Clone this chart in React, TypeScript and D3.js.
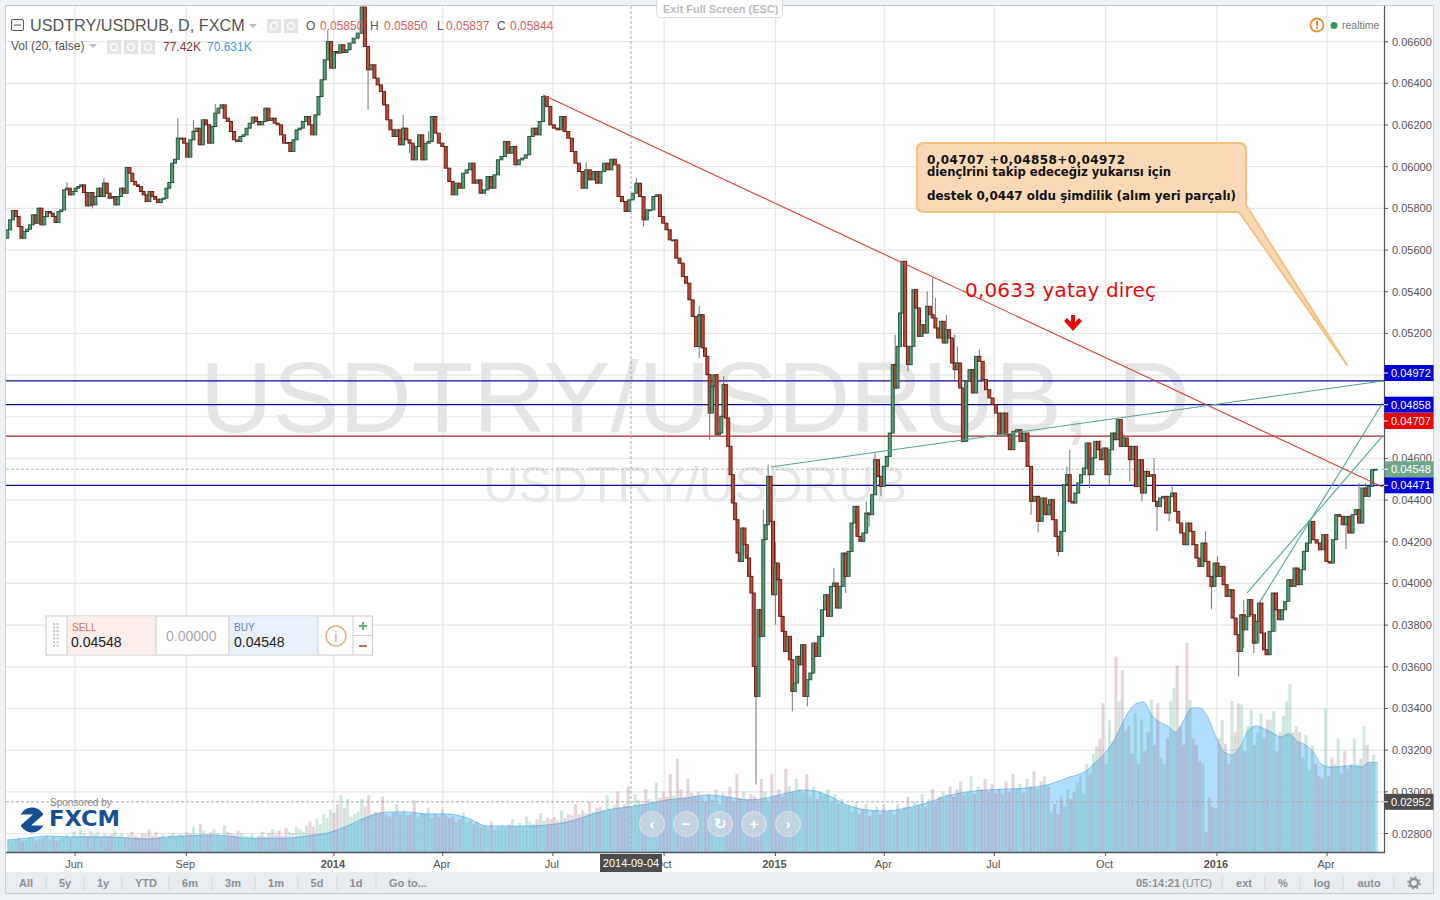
import React from "react";
import * as d3 from "d3";

const SANS = "'Liberation Sans', Arial, sans-serif";
const VERD = "'DejaVu Sans', Verdana, sans-serif";

// prices are in units of 0.00001
const closesA = [
  5697,5745,5790,5761,5713,5657,5689,5700,5721,5769,
  5729,5801,5721,5761,5785,5777,5761,5732,5785,5793,
  5889,5897,5865,5881,5897,5905,5913,5876,5812,5876,
  5817,5857,5897,5857,5921,5873,5849,5857,5817,5857,
  5897,5873,5996,5969,5929,5913,5905,5881,5865,5833,
  5881,5857,5844,5828,5844,5849,5897,5924,6017,6036,
  6137,6137,6113,6046,6129,6169,6185,6105,6225,6201,
  6113,6193,6257,6281,6297,6233,6217,6169,6129,6121,
  6145,6153,6185,6209,6238,6217,6201,6217,6281,6222,
  6233,6209,6201,6153,6113,6116,6073,6129,6177,6185,
  6217,6241,6201,6153,6249,6337,6417,6513,6601,6473,
  6553,6545,6585,6548,6561,
];
const closesB = [
  6593,6617,6641,6766,6577,6465,6489,6425,6393,6361,
  6297,6225,6177,6145,6177,6105,6185,6129,6113,6033,
  6097,6153,6033,6113,6121,6241,6161,6113,6097,5993,
  5929,5865,5921,5897,5969,5985,6017,5921,5937,5873,
  5889,5953,5897,5961,6033,6049,6121,6065,6097,6009,
  6033,6041,6057,6145,6185,6153,6217,6337,6289,6201,
  6185,6177,6241,6169,6137,6073,6017,5977,5897,5985,
  5937,5977,5921,5977,6017,5985,6036,6009,5857,5833,
  5785,5841,5873,5921,5857,5745,5793,5793,5857,5865,
  5761,5729,5697,5649,5649,5561,5537,5473,5441,5361,
  5281,5137,5289,
];
const closesC = [
  5290,5130,5090,5002,4818,4946,5002,4714,4722,4802,
  4954,4794,4658,4522,4386,4306,4146,4106,4266,4186,
  4122,4034,3954,3602,3458,3874,3746,4210,4282,4514,
  4298,3946,4098,4018,3842,3770,3674,3746,3634,3482,
  3522,3650,3610,3706,3458,3538,3570,3714,3650,3746,
  3874,3946,3842,3986,4002,3882,3986,4146,4034,4154,
  4290,4370,4226,4202,4242,4338,4330,4426,4594,4514,
  4466,4562,4610,4722,5050,4938,5138,5298,5546,5138,
  5050,5138,5410,5322,5186,5242,5202,5330,5290,5274,
  5226,5178,5258,5154,5218,5178,5058,5026,5058,4938,
  4682,4970,5026,4914,5090,5066,4978,4930,4890,4858,
  4818,4714,4818,4714,4642,4730,4738,4682,4722,4562,
  4394,4418,4298,4410,4330,4378,
];
const closesD = [
  4402,4306,4226,4154,4250,4474,4522,4394,4386,4434,
  4482,4522,4554,4674,4522,4602,4682,4642,4594,4650,
  4522,4642,4722,4690,4786,4658,4698,4658,4594,4658,
  4466,4594,4434,4538,4514,4522,4394,4370,4410,4418,
  4338,4418,4434,4346,4290,4242,4186,4290,4250,4186,
  4122,4082,4194,4106,4034,3986,4098,4034,4082,3994,
  3938,3970,3834,3754,3674,3850,3778,3842,3922,3850,
  3714,3818,3906,3762,3682,3658,3770,3954,3874,3826,
  3874,3914,4018,3986,4074,3994,4066,4154,4194,4298,
  4210,4194,4162,4234,4106,4098,4210,4330,4322,4282,
  4322,4242,4330,4354,4290,4458,4418,4466,4546,4548,
];

// [bar index in its block, high, low]
const wicksA: (number | null)[][] = [[21,5925,null],[30,null,5800],[34,5945,null],[60,6233,null],[65,6225,null],[108,6657,null],[72,6300,null]];
const wicksB: (number | null)[][] = [[5,null,6273],[16,6249,null],[18,null,6065],[29,6050,null],[69,6020,null],[85,null,5713],[83,5945,null],[102,5332,5081],[24,6170,null]];
const wicksC: (number | null)[][] = [[4,null,4690],[10,4994,null],[24,3600,3035],[27,4354,null],[29,4570,null],[32,4200,3802],[39,null,3386],[45,null,3410],[54,4074,null],[58,null,3954],[65,4394,null],[66,null,4274],[68,4626,null],[70,null,4420],[75,5194,null],[80,null,5018],[87,5402,null],[89,5466,null],[90,5370,null],[94,5290,null],[97,5194,4978],[98,5138,null],[105,5122,null],[120,null,4330],[122,null,4245]];
const wicksD: (number | null)[][] = [[3,null,4130],[6,4562,null],[7,4642,null],[14,null,4458],[18,4690,null],[21,null,4474],[26,4715,null],[28,null,4490],[32,null,4394],[36,4602,null],[37,null,4250],[41,null,4298],[42,4474,null],[53,4250,null],[55,null,3877],[57,4130,null],[64,null,3554],[66,3922,3690],[70,null,3666],[72,null,3714],[78,null,3767],[100,null,4165],[104,4482,null],[106,4482,null]];

// bar index -> date anchors (read at the chart's turning points)
const barIndexAnchors = [0,60,108,115,118,140,172,200,217,218,242,247,262,292,296,318,329,343,344,368,408,419,433,453];
const barDateAnchors = ["2013-04-06","2013-08-25","2013-12-27","2014-01-14","2014-01-24","2014-03-23","2014-06-23","2014-09-14","2014-10-30","2014-10-31","2014-12-16","2014-12-26","2015-01-25","2015-04-08","2015-04-16","2015-06-05","2015-07-05","2015-08-15","2015-08-16","2015-10-11","2016-01-19","2016-02-11","2016-03-18","2016-05-11"];

// volume in thousands
const volA = [
  10,9,10,11,9,10,12,11,9,10,11,13,10,12,9,11,12,14,11,16,
  13,18,15,13,17,14,16,12,15,13,14,17,13,15,12,14,16,13,12,15,
  14,18,13,16,12,14,11,13,15,12,14,13,16,15,20,14,22,17,14,16,
  18,15,13,21,16,15,14,17,15,13,12,14,11,13,16,12,15,18,14,17,
  13,19,16,15,20,18,16,21,24,20,26,22,30,27,34,31,38,45,35,42,
];
const volB = [
  28,30,32,42,36,45,30,32,31,44,30,28,31,38,30,
  33,29,30,41,28,31,30,35,27,30,28,34,29,27,
  28,24,26,31,23,25,22,24,20,21,19,24,18,20,
  21,19,22,26,20,23,21,28,24,22,26,31,25,27,
  26,28,25,33,27,30,29,38,30,33,31,40,32,35,
  36,33,45,34,37,48,35,38,52,36,46,41,38,50,
  42,40,55,43,48,44,62,45,74,50,44,58,47,45,48,
];
const volC = [
  44,40,46,42,50,38,47,44,52,40,62,43,48,42,
  46,44,41,58,48,40,62,45,50,44,66,52,48,58,
  50,47,62,44,52,42,48,45,50,40,46,38,42,37,
  36,32,40,30,34,38,29,33,36,30,38,32,34,30,
  38,33,36,44,35,40,38,46,36,42,50,40,44,48,
  46,52,44,50,56,45,48,60,46,52,50,58,48,54,47,
  50,46,56,48,62,50,54,47,58,52,64,50,56,60,52,
];
const volD = [
  32,38,30,44,36,50,42,48,55,60,46,70,62,78,84,
  90,118,70,105,88,155,120,144,
  96,100,78,110,70,105,80,95,121,85,118,75,
  70,90,120,130,148,100,85,166,
  121,90,85,72,70,
  16,43,36,35,
  90,105,86,70,120,95,118,
  117,80,100,113,85,95,110,90,105,
  105,112,80,95,108,120,133,95,100,
  95,75,93,65,85,70,60,58,
  114,60,75,70,90,62,
  80,66,70,90,70,74,100,85,70,77,
];
const volBlockDates = ["2013-04-06","2014-01-14","2014-10-31","2015-08-16","2016-05-11"];

// 20-bar volume average, thousands
const volMaCoarse = [9.5,11,12.7,12,12,12,11,10.3,12,12.7,13.5,12.7,11,11,11,12.7,15,20.6,27.8,31.7,31.7,30.2,30.2,27,20.6,20.6,20.6,21.4,23.8,28.6,33.3,35.7,38,41.3,42.9,45.2,43.7,41.3,42.9,46.8,49.2,45.2,37.3,33.3,32.5,35,38.9,44.4,47.6,49.2,50,50.8,53.2,58.7,65];
const volMaFine = [70.6,77,85,96.8,109.5,117.5,119,108.7,103,100,95,104.8,114.3,114.3,106.3,90.5,79.4,77,84,96.8,100,97.6,94.4,91.3,93.7,88,85,79.4,69.8,67.5,67.5,68.3,68.3,67.5,71.4,70.6];
const maDates = ["2013-04-06","2016-05-13"];

const priceTicks = [6600,6400,6200,6000,5800,5600,5400,5200,5000,4800,4600,4400,4200,4000,3800,3600,3400,3200,3000,2800];
const hiddenTicks = [5000, 4800];
const timeTicks: [string, string, boolean][] = [
  ["2013-06-01","Jun",false],["2013-09-01","Sep",false],["2014-01-01","2014",true],["2014-04-01","Apr",false],
  ["2014-07-01","Jul",false],["2014-10-01","Oct",false],["2015-01-01","2015",true],["2015-04-01","Apr",false],
  ["2015-07-01","Jul",false],["2015-10-01","Oct",false],["2016-01-01","2016",true],["2016-04-01","Apr",false],
];
const blueLevels = [4972, 4858, 4471];
const redLevels = [4707];
const lastPrice = 4548;
const lowMark = 2952;
const redTrend = [["2014-06-23",6344],["2016-05-17",4463]] as [string, number][];
const tealTrends = [
  [["2014-12-28",4559],["2016-05-17",4972]],
  [["2016-01-26",3955],["2016-05-17",4708]],
  [["2016-02-05",3907],["2016-05-17",4866]],
] as [string, number][][];
const leftRanges = ["All","5y","1y","YTD","6m","3m","1m","5d","1d","Go to..."];
const rightRanges = ["ext","%","log","auto"];

const d = (s: string) => new Date(s + "T00:00:00Z");
const x = d3.scaleUtc([d("2013-06-01"), d("2016-04-01")], [75, 1327]);
const y = d3.scaleLinear([2800, 6600], [833.5, 41.7]);
const volY = d3.scaleLinear([0, 100], [852, 726]);
const fmt = (v: number) => (v / 100000).toFixed(5);

const closes = [...closesA, ...closesB, ...closesC, ...closesD];
const barDate = d3.scaleLinear(barIndexAnchors, barDateAnchors.map((s) => +d(s)));
const barX = closes.map((_, i) => x(new Date(barDate(i))));
const wickList = [
  ...wicksA.map((w) => [(w[0] as number), w[1], w[2]]),
  ...wicksB.map((w) => [(w[0] as number) + closesA.length, w[1], w[2]]),
  ...wicksC.map((w) => [(w[0] as number) + closesA.length + closesB.length, w[1], w[2]]),
  ...wicksD.map((w) => [(w[0] as number) + closesA.length + closesB.length + closesC.length, w[1], w[2]]),
];

const volBlocks = [volA, volB, volC, volD];
const volBars = volBlocks.flatMap((arr, b) => {
  const s = d3.scaleLinear([0, arr.length], [+d(volBlockDates[b]), +d(volBlockDates[b + 1])]);
  return arr.map((v, i) => {
    const px = x(new Date(s(i)));
    const k = d3.bisectCenter(barX, px);
    return { v, px, up: k === 0 || closes[k] >= closes[k - 1] };
  });
});

const volMa = [...volMaCoarse, ...volMaFine];
const maIndex = d3.scaleLinear([0, volMaCoarse.length - 1, volMa.length - 1], [+d(maDates[0]), +x.invert(1087), +d(maDates[1])]);
const maArea = d3.area<number>()
  .x((_, i) => x(new Date(maIndex(i))))
  .y0(852)
  .y1((v) => volY(v))
  .curve(d3.curveMonotoneX);
const maLine = d3.line<number>()
  .x((_, i) => x(new Date(maIndex(i))))
  .y((v) => volY(v))
  .curve(d3.curveMonotoneX);

const IconBox = ({ px, py }: { px: number; py: number }) => (
  <g>
    <rect x={px} y={py} width={14} height={14} fill="#e3e3e3" />
    <circle cx={px + 7} cy={py + 7} r={3.5} fill="none" stroke="#fff" strokeWidth={1.6} />
  </g>
);

const PriceTag = ({ v, fill, at, color = "#fff" }: { v: number; fill: string; at?: number; color?: string }) => {
  const c = at ?? y(v);
  return (
    <g>
      <rect x={1384.5} y={c - 8} width={49} height={16} fill={fill} />
      <line x1={1384} x2={1388} y1={c} y2={c} stroke="#fff" />
      <text x={1391} y={c + 4} fontFamily={SANS} fontSize={11} fill={color}>{fmt(v)}</text>
    </g>
  );
};

export default function App() {
  return (
    <svg width={1440} height={900} style={{ position: "fixed", left: 0, top: 0, background: "#eef1f5" }}>
      <defs>
        <clipPath id="plot"><rect x={6} y={6} width={1378} height={846} /></clipPath>
      </defs>
      <rect x={5.5} y={5.5} width={1428} height={888} fill="#fff" stroke="#c9ccd1" />
      <rect x={6} y={872} width={1427} height={21} fill="#e9ecf0" />

      {/* grid */}
      {priceTicks.map((t) => (
        <line key={t} x1={6} x2={1384} y1={y(t)} y2={y(t)} stroke="#e6e6e6" strokeWidth={1.2} />
      ))}
      {timeTicks.map(([t]) => (
        <line key={t} x1={x(d(t))} x2={x(d(t))} y1={6} y2={852} stroke="#e6e6e6" strokeWidth={1.2} />
      ))}

      {/* watermark */}
      <text x={695} y={432} textAnchor="middle" fontFamily={SANS} fontSize={100.3} fill="#e5e5e5">USDTRY/USDRUB, D</text>
      <text x={695} y={502} textAnchor="middle" fontFamily={SANS} fontSize={49.3} fill="#e8e8e8">USDTRY/USDRUB</text>

      {/* volume */}
      <path d={maArea(volMa) ?? ""} fill="#acdcff" fillOpacity={0.95} />
      <path d={maLine(volMa) ?? ""} fill="none" stroke="#7cc3f4" strokeWidth={1} />
      {volBars.map((b, i) => (
        <rect key={i} x={b.px} y={volY(b.v)} width={3} height={852 - volY(b.v)}
          fill={b.up ? "rgb(70,170,125)" : "rgb(160,95,120)"} fillOpacity={0.27} />
      ))}

      <g clipPath="url(#plot)">
        {/* level lines */}
        <line x1={6} x2={1384} y1={y(lastPrice)} y2={y(lastPrice)} stroke="#a9c9b5" strokeDasharray="3 2" />
        <line x1={6} x2={1384} y1={y(lowMark)} y2={y(lowMark)} stroke="#a8a8a8" strokeDasharray="3 2" />
        {blueLevels.map((v) => (
          <line key={v} x1={6} x2={1384} y1={y(v)} y2={y(v)} stroke="#0c0c9c" strokeWidth={1.2} />
        ))}
        {redLevels.map((v) => (
          <line key={v} x1={6} x2={1384} y1={y(v)} y2={y(v)} stroke="#a82525" strokeWidth={1.2} />
        ))}

        {/* candles */}
        {wickList.map((w, i) => {
          const k = w[0] as number;
          const c = closes[k], o = closes[Math.max(0, k - 1)];
          const hi = (w[1] as number | null) ?? Math.max(c, o);
          const lo = (w[2] as number | null) ?? Math.min(c, o);
          return <line key={i} x1={barX[k]} x2={barX[k]} y1={y(hi)} y2={y(lo)} stroke="#777" strokeWidth={1} />;
        })}
        {closes.map((c, i) => {
          const o = i === 0 ? closes[0] - 40 : closes[i - 1];
          const up = c >= o;
          const top = y(Math.max(c, o));
          const h = Math.max(1, Math.abs(y(c) - y(o)));
          return (
            <rect key={i} x={barX[i] - 1.5} y={top} width={3} height={h}
              fill={up ? "#55a07c" : "#c24c38"} stroke={up ? "#27593f" : "#701e14"} strokeWidth={1} />
          );
        })}
      </g>

      {/* drawings */}
      <line x1={x(d(redTrend[0][0]))} y1={y(redTrend[0][1])} x2={x(d(redTrend[1][0]))} y2={y(redTrend[1][1])} stroke="#e0403c" strokeWidth={1.1} />
      {tealTrends.map((t, i) => (
        <line key={i} x1={x(d(t[0][0]))} y1={y(t[0][1])} x2={x(d(t[1][0]))} y2={y(t[1][1])} stroke="#4ea79c" strokeWidth={1.1} />
      ))}

      {/* callout */}
      <path d="M924 143 H1239 Q1246 143 1246 150 V205 L1347 365 L1239 212 H924 Q917 212 917 205 V150 Q917 143 924 143 Z"
        fill="#fad9b4" stroke="#f5c080" strokeWidth={2} strokeLinejoin="round" />
      <g fontFamily={VERD} fontWeight="bold" fontSize={12} fill="#111">
        <text x={927} y={164} textLength={198} lengthAdjust="spacing">0,04707 +0,04858+0,04972</text>
        <text x={927} y={176} textLength={244} lengthAdjust="spacingAndGlyphs">diençlrini takip edeceğiz yukarısı için</text>
        <text x={927} y={200} textLength={309} lengthAdjust="spacingAndGlyphs">destek 0,0447 oldu şimdilik (alım yeri parçalı)</text>
      </g>
      <text x={965} y={297} fontFamily={VERD} fontSize={20} fill="#e30b0b" textLength={191} lengthAdjust="spacing">0,0633 yatay direç</text>
      <path d="M1073 331 L1064 321 L1067 318 L1071 322 L1071 315 L1075 315 L1075 322 L1079 318 L1082 321 Z" fill="#e30b0b" />

      {/* axes */}
      <line x1={6} x2={1385} y1={852.5} y2={852.5} stroke="#555" strokeWidth={1.4} />
      <line x1={1384.5} x2={1384.5} y1={6} y2={853} stroke="#555" strokeWidth={1.2} />
      {priceTicks.map((t) => (
        <g key={t}>
          <line x1={1384} x2={1388} y1={y(t)} y2={y(t)} stroke="#555" />
          {!hiddenTicks.includes(t) && (
            <text x={1392} y={y(t) + 4} fontFamily={SANS} fontSize={11} fill="#555">{fmt(t)}</text>
          )}
        </g>
      ))}
      {timeTicks.map(([t, label, bold]) => (
        <g key={t}>
          <line x1={x(d(t))} x2={x(d(t))} y1={852} y2={856} stroke="#555" />
          <text x={x(d(t)) - 1} y={868} textAnchor="middle" fontFamily={SANS} fontSize={11} fontWeight={bold ? "bold" : "normal"} fill="#555">{label}</text>
        </g>
      ))}

      {/* crosshair */}
      <line x1={631} x2={631} y1={6} y2={852} stroke="#aaa" strokeDasharray="3 2" />
      <rect x={600} y={854} width={62} height={18} fill="#4d4d4d" />
      <text x={631} y={867} textAnchor="middle" fontFamily={SANS} fontSize={11} fill="#fff">2014-09-04</text>

      <PriceTag v={4972} fill="#0000d8" at={373} />
      <PriceTag v={4858} fill="#0000d8" />
      <PriceTag v={4707} fill="#f00000" at={421} />
      <PriceTag v={4548} fill="#72a88a" />
      <PriceTag v={4471} fill="#0000d8" />
      <PriceTag v={lowMark} fill="#4d4d4d" />

      {/* header */}
      <rect x={11.5} y={19.5} width={12} height={11} rx={1.5} fill="#fff" stroke="#555" />
      <line x1={14} x2={21} y1={25} y2={25} stroke="#555" />
      <text x={30} y={31} fontFamily={SANS} fontSize={16.2} fill="#555">USDTRY/USDRUB, D, FXCM</text>
      <path d="M249 24 h8 l-4 4 Z" fill="#bbb" />
      <IconBox px={267} py={19} />
      <IconBox px={284} py={19} />
      <g fontFamily={SANS} fontSize={12}>
        <text x={306} y={30} fill="#555">O</text>
        <text x={320} y={30} fill="#d9605a">0.05850</text>
        <text x={370} y={30} fill="#555">H</text>
        <text x={384} y={30} fill="#d9605a">0.05850</text>
        <text x={437} y={30} fill="#555">L</text>
        <text x={446} y={30} fill="#d9605a">0.05837</text>
        <text x={497} y={30} fill="#555">C</text>
        <text x={510} y={30} fill="#d9605a">0.05844</text>
        <text x={11} y={50} fill="#555">Vol (20, false)</text>
        <text x={163} y={51} fill="#8a3535">77.42K</text>
        <text x={207} y={51} fill="#3b9ddd">70.631K</text>
      </g>
      <path d="M89 44 h8 l-4 4 Z" fill="#bbb" />
      <IconBox px={107} py={40} />
      <IconBox px={124} py={40} />
      <IconBox px={141} py={40} />

      {/* exit full screen */}
      <path d="M656.5 0 V14 Q656.5 17.5 660 17.5 H779 Q782.5 17.5 782.5 14 V0" fill="#fff" stroke="#ddd" />
      <text x={663} y={13} fontFamily={SANS} fontSize={11} fontWeight="bold" fill="#bbb">Exit Full Screen (ESC)</text>

      {/* realtime */}
      <circle cx={1317} cy={25} r={6.5} fill="#fff" stroke="#ef8b2c" strokeWidth={1.8} />
      <rect x={1316.2} y={21} width={1.6} height={5.2} fill="#e8651a" />
      <rect x={1316.2} y={27} width={1.6} height={1.6} fill="#e8651a" />
      <circle cx={1334} cy={25.5} r={3.5} fill="#2e9a5f" />
      <text x={1342} y={29} fontFamily={SANS} fontSize={10.5} fill="#777">realtime</text>

      {/* trade widget */}
      <rect x={46} y={616} width={326.5} height={39} fill="#fff" stroke="#c8c8c8" />
      <rect x={67} y={616.5} width={89} height={38} fill="#fbeeea" />
      <rect x={229} y={616.5} width={89} height={38} fill="#e8f1fb" />
      {[67, 156, 229, 318, 353].map((v) => <line key={v} x1={v} x2={v} y1={616} y2={655} stroke="#ccc" />)}
      <line x1={353} x2={373} y1={635.5} y2={635.5} stroke="#ccc" />
      {[0, 1, 2, 3, 4, 5, 6].flatMap((r) => [0, 1].map((c) => (
        <rect key={`${r}-${c}`} x={53 + c * 3.5} y={623 + r * 3.6} width={2} height={2} fill="#c8c8c8" />
      )))}
      <g fontFamily={SANS}>
        <text x={72} y={631} fontSize={10} fill="#d4705f">SELL</text>
        <text x={71} y={647} fontSize={14} fill="#222">0.04548</text>
        <text x={166} y={641} fontSize={14} fill="#aaa">0.00000</text>
        <text x={234} y={631} fontSize={10} fill="#5c86b8">BUY</text>
        <text x={234} y={647} fontSize={14} fill="#222">0.04548</text>
        <text x={336} y={642} fontSize={15} textAnchor="middle" fill="#f0a868">i</text>
      </g>
      <circle cx={336} cy={636} r={10} fill="none" stroke="#f0ae72" strokeWidth={1.5} />
      <path d="M363 622 v8 M359 626 h8" stroke="#5fae7d" strokeWidth={2} />
      <path d="M359 646 h8" stroke="#bb7560" strokeWidth={2} />

      {/* sponsor */}
      <text x={50} y={806} fontFamily={SANS} fontSize={10} fill="#888">Sponsored by</text>
      <circle cx={32} cy={820} r={12.5} fill="#164f96" />
      <path d="M18 814.5 H33 L20 826 H18 Z M46 825.5 H31 L44 814 H46 Z" fill="#fff" />
      <text x={49} y={826} fontFamily={VERD} fontWeight="bold" fontSize={21} fill="#164f96" textLength={71} lengthAdjust="spacingAndGlyphs">FXCM</text>

      {/* chart navigation */}
      {["‹", "−", "↻", "+", "›"].map((g, i) => (
        <g key={g}>
          <circle cx={652 + i * 34} cy={824} r={12.5} fill="#d5d9de" fillOpacity={0.65} stroke="#e4e7ea" />
          <text x={652 + i * 34} y={829} textAnchor="middle" fontFamily={SANS} fontSize={15} fontWeight="bold" fill="#fff">{g}</text>
        </g>
      ))}

      {/* toolbar */}
      <g fontFamily={SANS} fontSize={11} fontWeight="bold" fill="#8b9097">
        {leftRanges.map((t, i) => (
          <text key={t} x={[26, 65, 103, 146, 190, 233, 276, 317, 356, 408][i]} y={887} textAnchor="middle">{t}</text>
        ))}
        <text x={1136} y={887}>05:14:21</text>
        <text x={1182} y={887} fontWeight="normal">(UTC)</text>
        {rightRanges.map((t, i) => (
          <text key={t} x={[1244, 1283, 1322, 1369][i]} y={887} textAnchor="middle">{t}</text>
        ))}
      </g>
      {[46, 84, 122, 169, 212, 255, 298, 337, 376, 1222, 1265, 1300, 1343, 1394].map((v) => (
        <line key={v} x1={v} x2={v} y1={876} y2={890} stroke="#d3d6db" />
      ))}
      <circle cx={1414} cy={883} r={4} fill="none" stroke="#8b9097" strokeWidth={2.4} />
      <circle cx={1414} cy={883} r={6} fill="none" stroke="#8b9097" strokeWidth={1.5} strokeDasharray="2 2.7" />
    </svg>
  );
}
